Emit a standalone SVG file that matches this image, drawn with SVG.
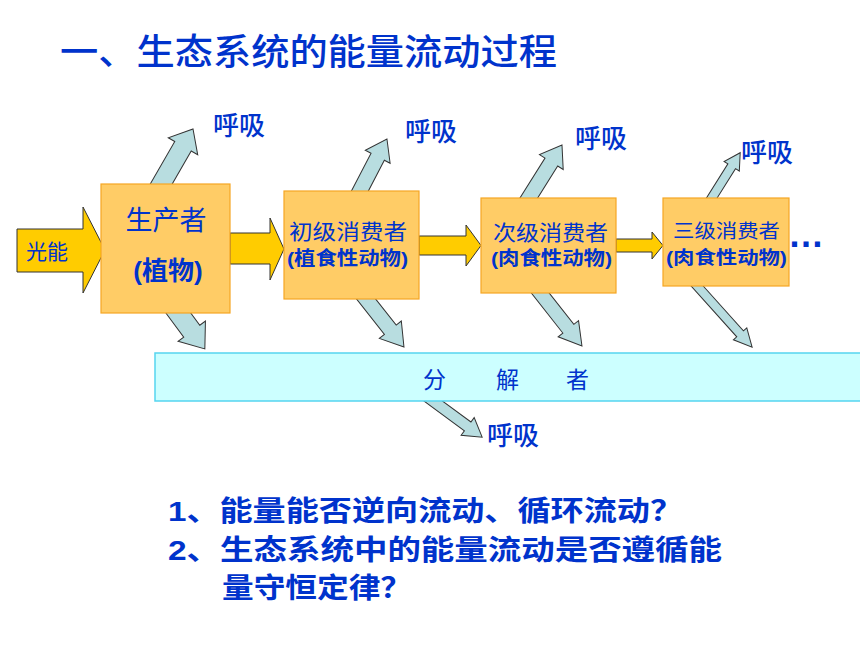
<svg xmlns="http://www.w3.org/2000/svg" width="860" height="645" viewBox="0 0 860 645">
<style>
.cjk{font-family:"Liberation Sans","Noto Sans CJK SC",sans-serif;fill:#0033CC}
.med{font-weight:500}
.box{fill:#FFCC66;stroke:#F5A623;stroke-width:1.2}
.gold{fill:#FFCC00;stroke:#333333;stroke-width:1}
.resp{fill:#B8DDE0;stroke:#333333;stroke-width:1}
.dec{fill:#CCFFFF;stroke:#55D5F0;stroke-width:1.5}
</style>
<rect width="860" height="645" fill="#FFFFFF"/>
<text class="cjk med" x="60" y="65" font-size="36" textLength="497" lengthAdjust="spacingAndGlyphs">一、生态系统的能量流动过程</text>

<g id="connectors">
  <polygon class="resp" points="0,-9.5 62,-9.5 62,-17 82,0 62,17 62,9.5 0,9.5" transform="translate(152,200) rotate(-60)"/>
  <polygon class="resp" points="0,-10 45,-10 45,-17 67,0 45,17 45,10 0,10" transform="translate(165,295) rotate(53.5)"/>
  <polygon class="resp" points="0,-7.5 60,-7.5 60,-14 80,0 60,14 60,7.5 0,7.5" transform="translate(350,210) rotate(-62.5)"/>
  <polygon class="resp" points="0,-7.5 57,-7.5 57,-14 79,0 57,14 57,7.5 0,7.5" transform="translate(355,285) rotate(51.7)"/>
  <polygon class="resp" points="0,-7.5 59,-7.5 59,-14 79,0 59,14 59,7.5 0,7.5" transform="translate(520,212) rotate(-57.9)"/>
  <polygon class="resp" points="0,-7 62,-7 62,-13 84,0 62,13 62,7 0,7" transform="translate(530,280) rotate(51.8)"/>
  <polygon class="resp" points="0,-4.5 54,-4.5 54,-9 70,0 54,9 54,4.5 0,4.5" transform="translate(703,212) rotate(-57.9)"/>
  <polygon class="resp" points="0,-4.5 75,-4.5 75,-9 93,0 75,9 75,4.5 0,4.5" transform="translate(690,278) rotate(48.1)"/>
  <polygon class="resp" points="0,-5.5 53,-5.5 53,-11 71,0 53,11 53,5.5 0,5.5" transform="translate(425,395) rotate(36.4)"/>
  <polygon class="gold" points="17,229 83,229 83,207 105,250 83,293 83,272 17,272"/>
  <polygon class="gold" points="230,233 270,233 270,218 284,249 270,280 270,264 230,264"/>
  <polygon class="gold" points="419,236 466,236 466,225 481,245.5 466,266 466,255 419,255"/>
  <polygon class="gold" points="616,239 652,239 652,232 663,245.5 652,259 652,252 616,252"/>
</g>

<text class="cjk" x="26" y="259" font-size="21">光能</text>

<g id="producer">
  <rect class="box" x="101" y="184" width="129" height="129"/>
  <text class="cjk" x="166" y="230" font-size="27" text-anchor="middle">生产者</text>
  <text class="cjk" x="168" y="280" font-size="26" font-weight="bold" text-anchor="middle">(植物)</text>
</g>
<g id="primary">
  <rect class="box" x="284" y="191" width="135" height="108"/>
  <text class="cjk" x="289" y="239" font-size="21" textLength="118" lengthAdjust="spacingAndGlyphs">初级消费者</text>
  <text class="cjk" x="287" y="265" font-size="19" font-weight="bold" textLength="121" lengthAdjust="spacingAndGlyphs">(植食性动物)</text>
</g>
<g id="secondary">
  <rect class="box" x="481" y="198" width="135" height="95"/>
  <text class="cjk" x="493" y="240" font-size="21" textLength="115" lengthAdjust="spacingAndGlyphs">次级消费者</text>
  <text class="cjk" x="491" y="265" font-size="19" font-weight="bold" textLength="121" lengthAdjust="spacingAndGlyphs">(肉食性动物)</text>
</g>
<g id="tertiary">
  <rect class="box" x="663" y="198" width="126" height="88"/>
  <text class="cjk" x="673" y="238" font-size="19" textLength="107" lengthAdjust="spacingAndGlyphs">三级消费者</text>
  <text class="cjk" x="666" y="264" font-size="18" font-weight="bold" textLength="121" lengthAdjust="spacingAndGlyphs">(肉食性动物)</text>
</g>
<text class="cjk" x="788" y="247" font-size="36" font-weight="bold">…</text>

<g id="decomposer">
  <rect class="dec" x="155" y="353" width="706" height="48"/>
  <text class="cjk" x="423" y="388" font-size="23">分</text>
  <text class="cjk" x="496" y="388" font-size="23">解</text>
  <text class="cjk" x="566" y="388" font-size="23">者</text>
</g>

<g id="labels">
  <text class="cjk med" x="213" y="135" font-size="26">呼吸</text>
  <text class="cjk med" x="405" y="141" font-size="26">呼吸</text>
  <text class="cjk med" x="575" y="148" font-size="26">呼吸</text>
  <text class="cjk med" x="741" y="162" font-size="26">呼吸</text>
  <text class="cjk med" x="487" y="445" font-size="26">呼吸</text>
</g>

<g id="questions">
  <text class="cjk" x="168" y="521" font-size="28" font-weight="600" textLength="515" lengthAdjust="spacingAndGlyphs">1、能量能否逆向流动、循环流动？</text>
  <text class="cjk" x="168" y="560" font-size="28" font-weight="600" textLength="554" lengthAdjust="spacingAndGlyphs">2、生态系统中的能量流动是否遵循能</text>
  <text class="cjk" x="222" y="598" font-size="28" font-weight="600" textLength="190" lengthAdjust="spacingAndGlyphs">量守恒定律？</text>
</g>
</svg>
